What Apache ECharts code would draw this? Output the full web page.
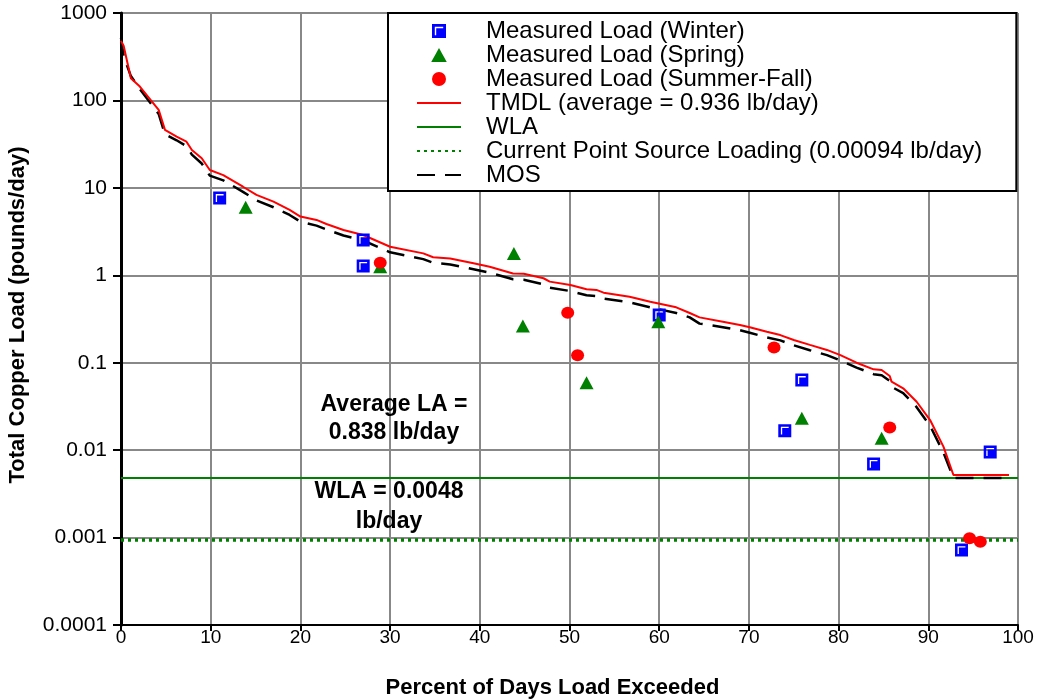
<!DOCTYPE html>
<html>
<head>
<meta charset="utf-8">
<script src="https://cdn.jsdelivr.net/npm/echarts@6/dist/echarts.min.js"></script>
<style>
  html, body { margin: 0; padding: 0; background: #fff; }
  #chart { width: 1037px; height: 700px; }
</style>
</head>
<body>
<div id="chart"></div>
<script>
// Load duration curve data
var curveX = [0, 0.3, 1.1, 2.1, 4.2, 4.9, 6.2, 7.3, 7.9, 9.0, 9.9, 11.4, 13.6, 15.1, 17.0, 18.8, 20.0, 21.8, 22.9, 24.8,
              27.0, 30.0, 33.7, 34.8, 36.7, 39.3, 41.1, 43.7, 44.9, 47.1, 47.8, 50.1, 51.9, 53.0, 53.8, 56.7, 59.0, 61.9, 63.4, 64.5,
              67.1, 69.0, 70.1, 72.0, 73.5, 75.0, 76.8, 78.7, 80.2, 82.0, 83.9, 84.8, 85.7, 85.9, 87.2, 88.7, 90.2, 91.7, 92.8, 99.0];
var tmdlY = [480, 420, 179, 144, 78, 46, 38.5, 33.7, 27.1, 21.8, 16.0, 14.0, 10.3, 8.3, 6.95, 5.6, 4.7, 4.3, 3.86, 3.3,
             2.89, 2.12, 1.78, 1.61, 1.56, 1.37, 1.25, 1.05, 1.04, 0.925, 0.846, 0.774, 0.692, 0.68, 0.633, 0.569, 0.499, 0.43, 0.37, 0.33,
             0.294, 0.27, 0.254, 0.226, 0.207, 0.182, 0.16, 0.14, 0.122, 0.1, 0.084, 0.0826, 0.0705, 0.0607, 0.051, 0.0358, 0.0221, 0.0109, 0.0052, 0.0052];
var mosY = [520, 320, 190, 135, 70, 41, 35, 30, 24, 19, 13.8, 12.2, 9.0, 7.2, 6.0, 4.9, 4.1, 3.7, 3.35, 2.85,
            2.5, 1.83, 1.53, 1.39, 1.33, 1.17, 1.07, 0.9, 0.89, 0.79, 0.72, 0.66, 0.59, 0.58, 0.54, 0.49, 0.43, 0.37, 0.33, 0.28,
            0.255, 0.235, 0.22, 0.195, 0.18, 0.158, 0.139, 0.122, 0.106, 0.088, 0.074, 0.072, 0.062, 0.053, 0.045, 0.031, 0.019, 0.0093, 0.0048, 0.0048];

var wlaValue = 0.0048;
var pointSourceValue = 0.00094;

// Measured loads: [percent exceeded, lb/day]
var winterPts = [[11.0, 7.66], [27.0, 2.54], [27.0, 1.28], [60.0, 0.351], [75.9, 0.0634], [74.0, 0.0167],
                 [83.9, 0.00695], [96.9, 0.00952], [93.7, 0.00072]];
var springPts = [[13.9, 6.0], [28.9, 1.25], [43.8, 1.78], [44.8, 0.263], [59.9, 0.294], [51.9, 0.059],
                 [75.9, 0.0231], [84.8, 0.0137]];
var summerPts = [[28.9, 1.39], [49.8, 0.373], [50.9, 0.122], [72.8, 0.149], [85.7, 0.0182], [94.6, 0.00098], [95.8, 0.000897]];

var yTickLabels = ['0.0001', '0.001', '0.01', '0.1', '1', '10', '100', '1000'];
var legendNames = ['Measured Load (Winter)', 'Measured Load (Spring)', 'Measured Load (Summer-Fall)',
                   'TMDL (average = 0.936 lb/day)', 'WLA', 'Current Point Source Loading (0.00094 lb/day)', 'MOS'];

var font = 'Liberation Sans, Arial, sans-serif';

// square with a white L highlight in the top-left corner
var squareSymbol = 'path://M0,0 L10,0 L10,10 L0,10 Z M2,2 L2,8 L3,8 L3,3 L8,3 L8,2 Z';
var triangleSymbol = 'path://M5,0 L10,9 L0,9 Z';

function zip(xs, ys) {
	return xs.map(function (x, i) { return [x, ys[i]]; });
}

var chart = echarts.init(document.getElementById('chart'));

// legend entries: markers keep their symbol, lines hide the middle dot
var legendData = legendNames.map(function (name, i) {
	if (i === 1) return { name: name, icon: triangleSymbol };
	if (i < 3) return { name: name };
	return { name: name, itemStyle: { opacity: 0 } };
});

var option = {
	animation: false,
	backgroundColor: '#fff',
	textStyle: { fontFamily: font },
	grid: { left: 121, right: 19, top: 13, bottom: 75, containLabel: false, outerBoundsMode: 'none' },
	legend: {
		orient: 'vertical',
		left: 388,
		top: 13,
		padding: [6, 34, 4, 28],
		itemWidth: 44,
		itemHeight: 14,
		itemGap: 0,
		backgroundColor: '#fff',
		borderColor: '#000',
		borderWidth: 2,
		data: legendData,
		textStyle: { fontSize: 24, color: '#000', fontFamily: font, lineHeight: 24, padding: [0, 0, 0, 20] }
	},
	xAxis: {
		type: 'value',
		min: 0,
		max: 100,
		interval: 10,
		name: 'Percent of Days Load Exceeded',
		nameLocation: 'middle',
		nameGap: 52,
		nameTextStyle: { fontSize: 22, fontWeight: 'bold', color: '#000', fontFamily: font, padding: [0, 34, 0, 0] },
		axisLine: { onZero: false, lineStyle: { color: '#000', width: 2 } },
		axisTick: { length: 6, lineStyle: { color: '#000', width: 2 } },
		axisLabel: { fontSize: 19, color: '#000', margin: 3 },
		splitLine: { show: true, lineStyle: { color: '#888', width: 2 } }
	},
	yAxis: {
		type: 'log',
		logBase: 10,
		min: 0.0001,
		max: 1000,
		name: 'Total Copper Load (pounds/day)',
		nameLocation: 'middle',
		nameGap: 92,
		nameTextStyle: { fontSize: 22, fontWeight: 'bold', color: '#000', fontFamily: font, padding: [0, 0, 0, 8] },
		axisLine: { show: true, lineStyle: { color: '#000', width: 3 } },
		axisTick: { show: true, length: 8, lineStyle: { color: '#000', width: 2 } },
		axisLabel: {
			fontSize: 21, color: '#000', margin: 14,
			formatter: function (v) {
				return yTickLabels[Math.round(Math.log10(v)) + 4];
			}
		},
		splitLine: { show: true, lineStyle: { color: '#888', width: 2 } }
	},
	series: [
		{
			name: legendNames[3], type: 'line', showSymbol: false, symbol: 'none', z: 4,
			data: zip(curveX, tmdlY),
			lineStyle: { color: '#ff0000', width: 2 }, itemStyle: { color: '#ff0000' }
		},
		{
			name: legendNames[4], type: 'line', showSymbol: false, symbol: 'none', z: 3,
			data: [[0, wlaValue], [100, wlaValue]],
			lineStyle: { color: '#008000', width: 2 }, itemStyle: { color: '#008000' }
		},
		{
			name: legendNames[5], type: 'line', showSymbol: false, symbol: 'none', z: 3,
			data: [[0, pointSourceValue], [100, pointSourceValue]],
			lineStyle: { color: '#008000', width: 3.5, type: [3, 4] }, itemStyle: { color: '#008000' }
		},
		{
			name: legendNames[6], type: 'line', showSymbol: false, symbol: 'none', z: 3,
			data: zip(curveX, mosY),
			lineStyle: { color: '#000', width: 2.5, type: [18, 10] }, itemStyle: { color: '#000' }
		},
		{
			name: legendNames[0], type: 'scatter', symbol: squareSymbol, symbolSize: 13, z: 5,
			data: winterPts, itemStyle: { color: '#0000ff', opacity: 1 }
		},
		{
			name: legendNames[1], type: 'scatter', symbol: 'triangle', symbolSize: [14, 13], z: 5,
			data: springPts, itemStyle: { color: '#008000', opacity: 1 }
		},
		{
			name: legendNames[2], type: 'scatter', symbol: 'circle', symbolSize: [13, 12], z: 5,
			data: summerPts, itemStyle: { color: '#ff0000', opacity: 1 }
		}
	],
	graphic: [
		{
			type: 'text', x: 394, y: 419, z: 10,
			style: { text: 'Average LA =\n0.838 lb/day', fontSize: 23, fontWeight: 'bold', fill: '#000',
			         fontFamily: font, align: 'center', verticalAlign: 'middle', lineHeight: 28 }
		},
		{
			type: 'text', x: 389, y: 507, z: 10,
			style: { text: 'WLA = 0.0048\nlb/day', fontSize: 23, fontWeight: 'bold', fill: '#000',
			         fontFamily: font, align: 'center', verticalAlign: 'middle', lineHeight: 30 }
		}
	]
};

chart.setOption(option);
</script>
</body>
</html>
